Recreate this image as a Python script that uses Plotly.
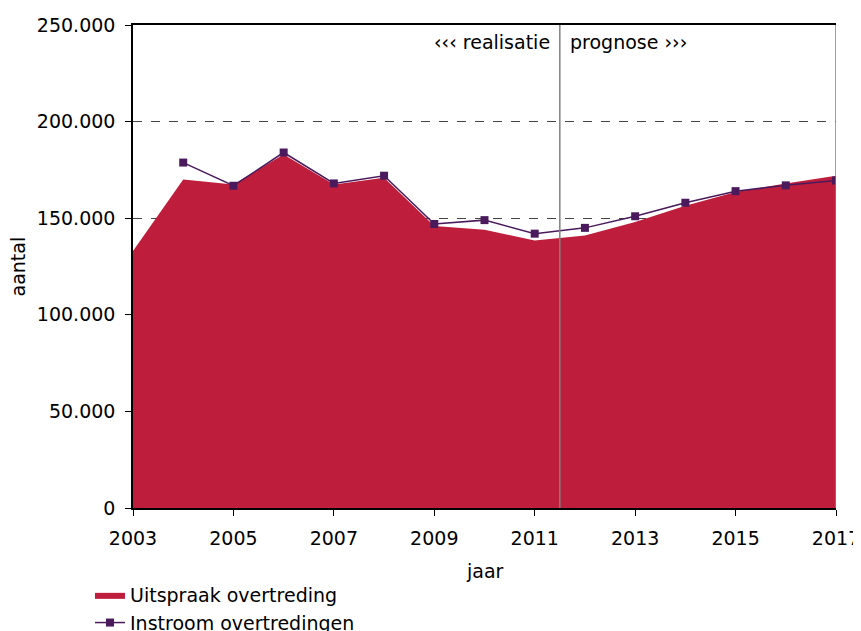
import plotly.graph_objects as go

years = [2003, 2004, 2005, 2006, 2007, 2008, 2009, 2010, 2011, 2012, 2013, 2014, 2015, 2016, 2017]
uitspraak = [133000, 170000, 167500, 183000, 167500, 171000, 146000, 144000, 138500, 141000, 148000, 156500, 163500, 168000, 172000]
instroom_years = [2004, 2005, 2006, 2007, 2008, 2009, 2010, 2011, 2012, 2013, 2014, 2015, 2016, 2017]
instroom = [178800, 166800, 184000, 168000, 172000, 147000, 149000, 142000, 145000, 151000, 158000, 164000, 167000, 169500]
x_ticks = [2003, 2005, 2007, 2009, 2011, 2013, 2015, 2017]
y_ticks = [0, 50000, 100000, 150000, 200000, 250000]
y_labels = ["0", "50.000", "100.000", "150.000", "200.000", "250.000"]
split_year = 2011.5

FONT = "DejaVu Sans"
FS = 19
RED = "#BE1E3C"
PURPLE = "#4A1A5C"
W, H = 853, 623  # page body has an 8px margin

fig = go.Figure()
fig.add_trace(go.Scatter(
    x=years, y=uitspraak, name="Uitspraak overtreding",
    mode="lines", line=dict(width=0, color=RED), fill="tozeroy", fillcolor=RED,
))
fig.add_trace(go.Scatter(
    x=instroom_years, y=instroom, name="Instroom overtredingen",
    mode="lines+markers", line=dict(width=1.5, color=PURPLE),
    marker=dict(symbol="square", size=8, color=PURPLE),
))

fig.add_shape(type="line", xref="x", yref="y", x0=split_year, x1=split_year, y0=0, y1=250000,
              line=dict(color="#808080", width=1.5))
fig.add_shape(type="line", xref="x", yref="y", x0=2017, x1=2017, y0=0, y1=250000,
              line=dict(color="#808080", width=1.5))
fig.add_annotation(x=split_year, y=1, xref="x", yref="paper", yshift=-17, yanchor="middle",
                   text="‹‹‹ realisatie", showarrow=False, xanchor="right", xshift=-8,
                   font=dict(family=FONT, size=FS, color="#000"))
fig.add_annotation(x=split_year, y=1, xref="x", yref="paper", yshift=-17, yanchor="middle",
                   text="prognose ›››", showarrow=False, xanchor="left", xshift=8,
                   font=dict(family=FONT, size=FS, color="#000"))
# axis titles
fig.add_annotation(x=0.5, y=0, xref="paper", yref="paper", yshift=-63, yanchor="middle",
                   text="jaar", showarrow=False, font=dict(family=FONT, size=FS, color="#000"))
fig.add_annotation(x=0, y=0.5, xref="paper", yref="paper", xshift=-116, xanchor="center",
                   yanchor="middle", text="aantal", textangle=-90,
                   showarrow=False, font=dict(family=FONT, size=FS, color="#000"))

fig.update_layout(
    width=W, height=H,
    margin=dict(l=125, r=25, t=17, b=123, autoexpand=False),
    paper_bgcolor="white", plot_bgcolor="white",
    font=dict(family=FONT, size=FS, color="#000"),
    showlegend=True,
    legend=dict(orientation="v", x=82 / W, xref="container", xanchor="left",
                y=1 - 568 / H, yref="container", yanchor="top",
                font=dict(family=FONT, size=FS), tracegroupgap=0, itemwidth=30,
                bgcolor="rgba(0,0,0,0)"),
    xaxis=dict(range=[2003, 2017], tickvals=x_ticks, ticktext=[str(v) for v in x_ticks],
               showgrid=False, zeroline=False, showline=True, linecolor="#000", linewidth=1.5,
               mirror=True, ticks="outside", ticklen=6, tickcolor="#000", automargin=False,
               ticklabelstandoff=6, ticklabeloverflow="allow"),
    yaxis=dict(range=[0, 250000], tickvals=y_ticks, ticktext=y_labels,
               showgrid=True, gridcolor="#444", griddash="dash", gridwidth=1,
               zeroline=False, showline=True, linecolor="#000", linewidth=1.5,
               ticks="outside", ticklen=6, tickcolor="#000", automargin=False,
               ticklabelstandoff=6, ticklabeloverflow="allow"),
)

fig.write_html("out.html")
